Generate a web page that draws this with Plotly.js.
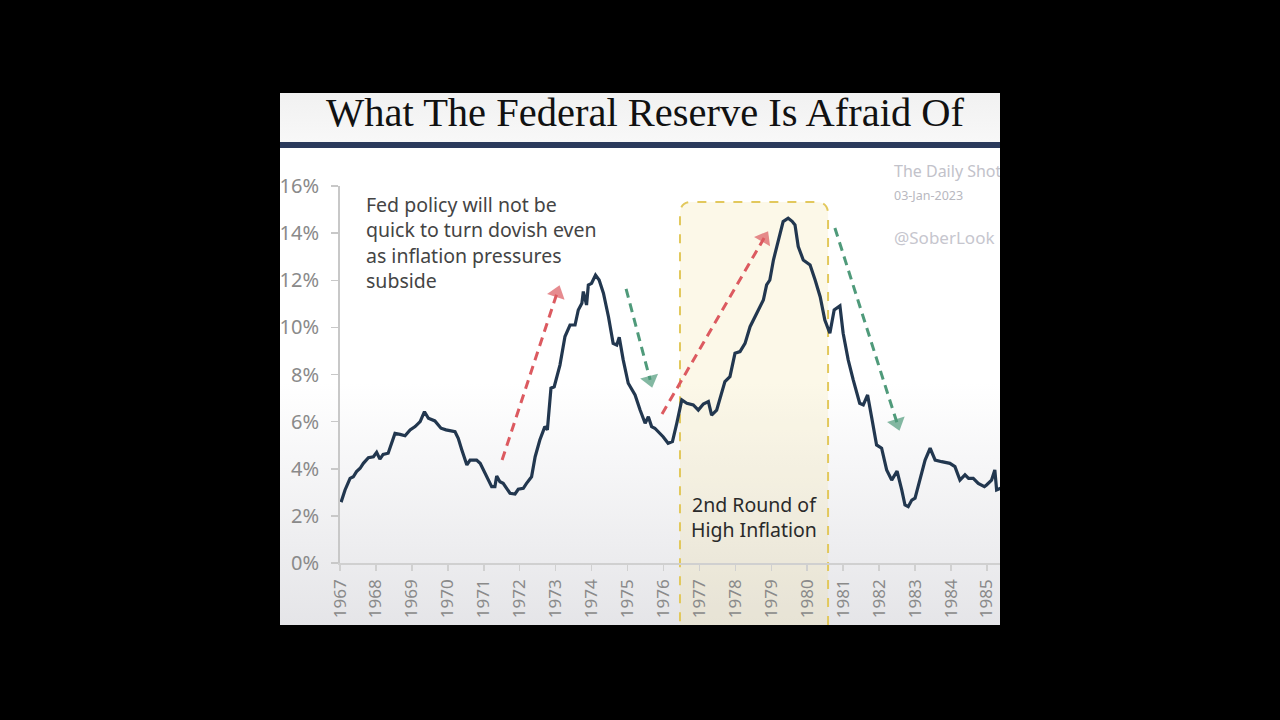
<!DOCTYPE html>
<html>
<head>
<meta charset="utf-8">
<script src="https://cdn.plot.ly/plotly-3.0.1.min.js"></script>
<style>
html,body{margin:0;padding:0;background:#000;width:1280px;height:720px;overflow:hidden;}
#panel{position:absolute;left:280px;top:93px;width:720px;height:532px;
  background:linear-gradient(to bottom,#f1f1f1 0px,#f8f8f8 49px,#2b3a5c 49px,#2b3a5c 55px,#ffffff 55px,#ffffff 290px,#e5e5e8 532px);}
#chart{position:absolute;left:0;top:-30px;width:720px;height:562px;}
</style>
</head>
<body>
<div id="panel"><div id="chart"></div></div>
<script>
// ---- data (US CPI, % year over year) ----
const years = [
 1967.03,1967.14,1967.28,1967.37,1967.46,1967.56,1967.65,1967.79,1967.93,
 1968.02,1968.11,1968.20,1968.34,1968.53,1968.67,1968.81,1968.95,
 1969.09,1969.23,1969.35,1969.46,1969.64,1969.81,1969.95,
 1970.20,1970.29,1970.39,1970.53,1970.62,1970.80,1970.90,
 1971.03,1971.22,1971.31,1971.36,1971.45,1971.54,1971.73,1971.87,1971.96,
 1972.10,1972.19,1972.33,1972.43,1972.56,1972.70,1972.77,1972.87,1972.96,
 1973.12,1973.26,1973.40,1973.54,1973.63,1973.73,1973.77,1973.86,1973.91,
 1974.00,1974.11,1974.21,1974.33,1974.47,1974.60,1974.70,1974.77,1974.88,
 1975.02,1975.21,1975.35,1975.49,1975.58,1975.67,1975.76,1975.86,1975.99,
 1976.13,1976.25,1976.37,1976.51,1976.65,1976.83,1976.97,
 1977.11,1977.25,1977.34,1977.48,1977.57,1977.71,1977.85,1977.99,
 1978.13,1978.27,1978.41,1978.59,1978.78,1978.87,1978.96,
 1979.06,1979.20,1979.33,1979.47,1979.58,1979.66,1979.75,1979.89,
 1980.08,1980.22,1980.36,1980.49,1980.63,1980.75,1980.91,
 1981.00,1981.14,1981.28,1981.46,1981.56,1981.68,1981.79,1981.93,
 1982.07,1982.21,1982.35,1982.50,1982.63,1982.72,1982.81,1982.91,
 1983.00,1983.14,1983.28,1983.42,1983.56,1983.74,1983.97,
 1984.11,1984.25,1984.39,1984.49,1984.62,1984.76,1984.93,1984.99,
 1985.13,1985.22,1985.27,1985.38
];
const cpiYoY = [
 2.58,3.10,3.59,3.66,3.88,4.02,4.23,4.47,4.51,
 4.70,4.41,4.61,4.66,5.50,5.46,5.40,5.65,
 5.79,6.00,6.42,6.14,6.03,5.72,5.65,
 5.57,5.29,4.80,4.16,4.37,4.37,4.23,
 3.81,3.24,3.24,3.69,3.45,3.38,2.96,2.93,3.13,
 3.17,3.38,3.66,4.51,5.22,5.79,5.65,7.42,7.48,
 8.40,9.61,10.10,10.10,10.74,11.02,11.52,10.95,11.80,
 11.87,12.22,12.01,11.45,10.45,9.32,9.25,9.58,8.62,
 7.63,7.13,6.49,5.93,6.21,5.79,5.72,5.57,5.36,
 5.08,5.15,5.93,6.92,6.78,6.71,6.49,
 6.75,6.85,6.28,6.49,6.92,7.70,7.91,8.90,
 8.97,9.32,10.03,10.60,11.16,11.80,12.01,
 12.86,13.71,14.49,14.63,14.50,14.35,13.43,12.86,
 12.65,12.01,11.30,10.31,9.75,10.74,10.91,
 9.75,8.62,7.77,6.78,6.71,7.13,6.21,5.01,
 4.87,3.95,3.52,3.90,3.10,2.46,2.39,2.67,
 2.75,3.52,4.37,4.87,4.37,4.30,4.23,
 4.09,3.52,3.74,3.59,3.59,3.38,3.24,3.31,
 3.52,3.95,3.10,3.17
];
const xTickYears = [1967,1968,1969,1970,1971,1972,1973,1974,1975,1976,1977,1978,1979,1980,1981,1982,1983,1984,1985];
const xTickLabels = ['1967','1968','1969','1970','1971','1972','1973','1974','1975','1976','1977','1978','1979','1980','1981','1982','1983','1984','1985'];
const yTickVals = [0,2,4,6,8,10,12,14,16];
const yTickLabels = ['0%','2%','4%','6%','8%','10%','12%','14%','16%'];

// annotation arrows (tail -> head), in chart coordinates
const arrowX = [[1971.51,1973.04],[1974.96,1975.63],[1975.96,1978.80],[1980.77,1982.50]];
const arrowY = [[4.37,11.46],[11.63,7.77],[6.32,13.79],[14.22,5.94]];
const arrowColors = ['#dc5a60','#4f9a7a','#dc5a60','#4f9a7a'];

// highlighted period box
const boxX0 = 1976.46, boxX1 = 1980.58;

const FONT = 'Noto Sans, Open Sans, sans-serif';
const traces = [{
  x: years, y: cpiYoY, type: 'scatter', mode: 'lines',
  line: {color: '#22374f', width: 3.2},
  hoverinfo: 'skip', showlegend: false
}];
arrowX.forEach((ax, i) => {
  traces.push({
    x: ax, y: arrowY[i], type: 'scatter', mode: 'lines+markers',
    line: {color: arrowColors[i], width: 3, dash: '9px,6px'},
    marker: {symbol: 'triangle-up', size: [0, 16], color: arrowColors[i], angleref: 'previous', line: {width: 0}},
    hoverinfo: 'skip', showlegend: false
  });
});

const rx = 0.33, ry = 0.032, yt = 0.9576, yb = -0.25;
const boxPath = `M ${boxX0},${yb} L ${boxX0},${yt-ry} Q ${boxX0},${yt} ${boxX0+rx},${yt} L ${boxX1-rx},${yt} Q ${boxX1},${yt} ${boxX1},${yt-ry} L ${boxX1},${yb} Z`;

const layout = {
  width: 720, height: 562,
  margin: {l: 60, r: 0, t: 123, b: 62, pad: 0},
  paper_bgcolor: 'rgba(0,0,0,0)', plot_bgcolor: 'rgba(0,0,0,0)',
  font: {family: FONT, color: '#8a8a8a'},
  title: {
    text: 'What The Federal Reserve Is Afraid Of',
    font: {family: 'Liberation Serif, Times New Roman, serif', size: 40.5, color: '#111111'},
    xref: 'container', x: 0.507, xanchor: 'center',
    yref: 'container', y: 0.9128, yanchor: 'middle'
  },
  xaxis: {
    range: [1967, 1985.364], tickmode: 'array', tickvals: xTickYears, ticktext: xTickLabels,
    tickangle: -90, tickfont: {family: FONT, size: 17, color: '#8a8a8a'},
    ticks: 'outside', ticklen: 6, tickwidth: 1.5, tickcolor: '#d0d0d0',
    showline: true, linecolor: '#d0d0d0', linewidth: 1.5,
    showgrid: false, zeroline: false, fixedrange: true, ticklabelstandoff: 2
  },
  yaxis: {
    range: [0, 16], tickmode: 'array', tickvals: yTickVals, ticktext: yTickLabels,
    tickfont: {family: FONT, size: 20, color: '#8a8a8a'},
    ticks: 'outside', ticklen: 7, tickwidth: 1.5, tickcolor: '#c8c8c8',
    showline: true, linecolor: '#c8c8c8', linewidth: 2,
    showgrid: false, zeroline: false, fixedrange: true, ticklabelstandoff: 8
  },
  shapes: [{
    type: 'path', xref: 'x', yref: 'paper', path: boxPath, layer: 'below',
    fillcolor: 'rgba(240,222,140,0.2)',
    line: {color: '#e2c85c', width: 2, dash: 'dash'}
  }],
  annotations: [
    {xref: 'paper', yref: 'paper', x: 0.037, y: 0.993, xanchor: 'left', yanchor: 'top', align: 'left', showarrow: false,
     text: 'Fed policy will not be<br>quick to turn dovish even<br>as inflation pressures<br>subside',
     font: {family: FONT, size: 19.5, color: '#444444'}},
    {xref: 'paper', yref: 'paper', x: 0.6273, y: 0.1233, xanchor: 'center', yanchor: 'middle', align: 'center', showarrow: false,
     text: '2nd Round of<br>High Inflation', font: {family: FONT, size: 19.5, color: '#2a2a2a'}},
    {xref: 'paper', yref: 'paper', x: 0.836, y: 1.0398, xanchor: 'left', yanchor: 'middle', showarrow: false,
     text: 'The Daily Shot', font: {family: FONT, size: 16, color: '#c2c2ca'}},
    {xref: 'paper', yref: 'paper', x: 0.836, y: 0.9735, xanchor: 'left', yanchor: 'middle', showarrow: false,
     text: '03-Jan-2023', font: {family: FONT, size: 12.5, color: '#b8b8c0'}},
    {xref: 'paper', yref: 'paper', x: 0.836, y: 0.8647, xanchor: 'left', yanchor: 'middle', showarrow: false,
     text: '@SoberLook', font: {family: FONT, size: 17, color: '#c6c6ce'}}
  ]
};

Plotly.newPlot('chart', traces, layout, {staticPlot: true, displayModeBar: false});
</script>
</body>
</html>
